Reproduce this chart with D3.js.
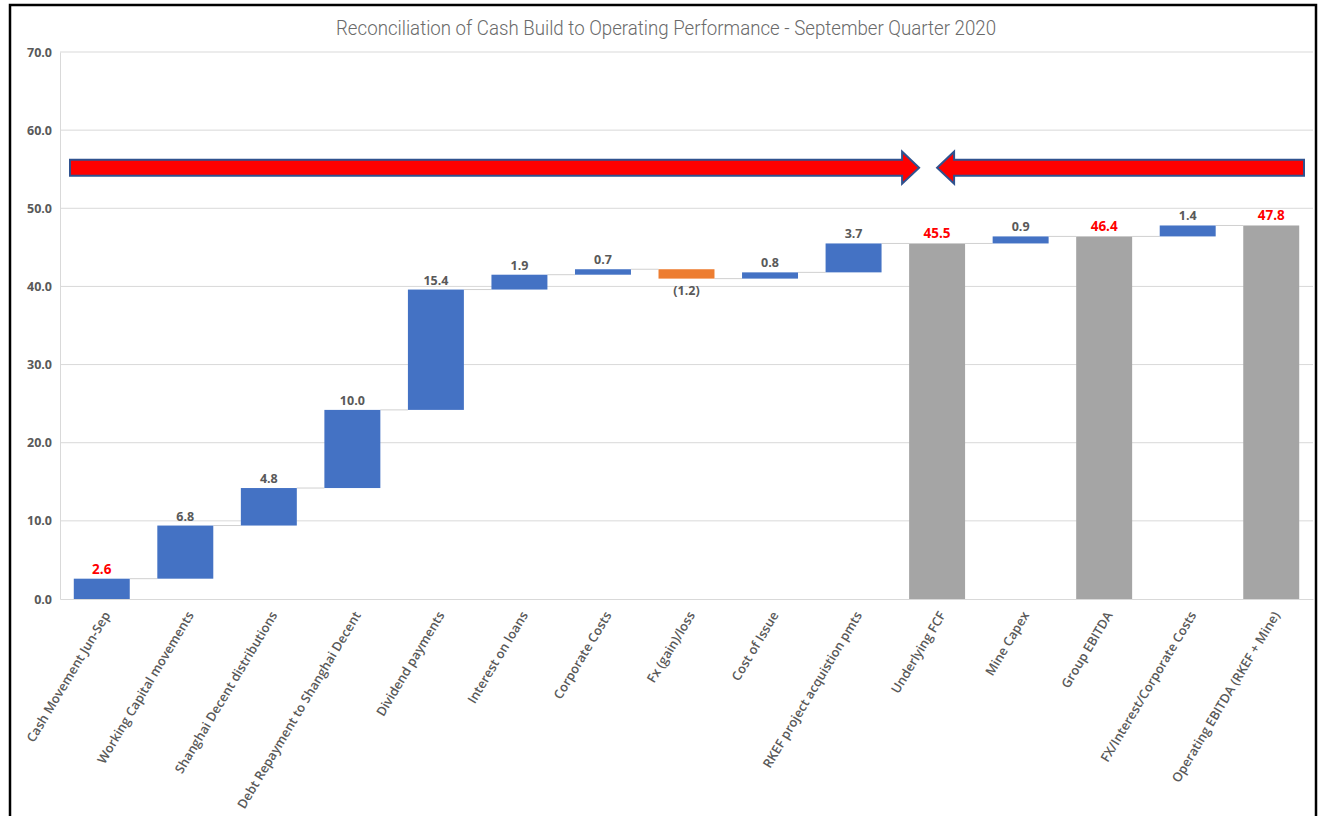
<!DOCTYPE html>
<html>
<head>
<meta charset="utf-8">
<script src="https://cdn.jsdelivr.net/npm/d3@7"></script>
<style>
  html, body { margin: 0; padding: 0; background: #fff; }
  svg { display: block; }
</style>
</head>
<body>
<svg id="chart" width="1322" height="816"></svg>
<script>
// ---- data ----
const title = "Reconciliation of Cash Build to Operating Performance - September Quarter 2020";
const categories = [
  "Cash Movement  Jun-Sep",
  "Working Capital movements",
  "Shanghai Decent distributions",
  "Debt Repayment to Shanghai Decent",
  "Dividend payments",
  "Interest on loans",
  "Corporate Costs",
  "Fx (gain)/loss",
  "Cost of Issue",
  "RKEF project acquistion pmts",
  "Underlying FCF",
  "Mine Capex",
  "Group EBITDA",
  "FX/Interest/Corporate Costs",
  "Operating EBITDA (RKEF + Mine)"
];
const values = [2.6, 6.8, 4.8, 10.0, 15.4, 1.9, 0.7, -1.2, 0.8, 3.7, 45.5, 0.9, 46.4, 1.4, 47.8];
const kinds  = ["start","delta","delta","delta","delta","delta","delta","delta","delta","delta","total","delta","total","delta","total"];
const yTicks = [0, 10, 20, 30, 40, 50, 60, 70];
const arrowLevel = 55.2;
const arrowTarget = "Underlying FCF";

// ---- build waterfall ----
let running = 0;
const bars = categories.map((c, i) => {
  let y0, y1;
  if (kinds[i] === "total") { y0 = 0; y1 = values[i]; running = values[i]; }
  else { y0 = running; y1 = running + values[i]; running = y1; }
  return { cat: c, v: values[i], kind: kinds[i], y0, y1, end: running };
});

const svg = d3.select("#chart");
const plot = { left: 60, right: 1313, top: 52, bottom: 599 };

const x = d3.scaleBand().domain(categories).range([plot.left, plot.right])
  .paddingInner(0.33).paddingOuter(0.165);
const y = d3.scaleLinear().domain([0, 70]).range([plot.bottom, plot.top]);

// frame
svg.append("rect").attr("x", 10).attr("y", 5).attr("width", 1306).attr("height", 840)
  .attr("fill", "none").attr("stroke", "#000").attr("stroke-width", 2.5);

// title
svg.append("text").attr("x", 666).attr("y", 35).attr("text-anchor", "middle")
  .attr("font-family", "Roboto, sans-serif").attr("font-weight", 300)
  .attr("font-size", 20).attr("fill", "#6a6a6a")
  .attr("textLength", 660).attr("lengthAdjust", "spacingAndGlyphs")
  .text(title);

// gridlines
svg.append("g").selectAll("line").data(yTicks.filter(t => t > 0)).join("line")
  .attr("x1", plot.left).attr("x2", plot.right)
  .attr("y1", d => y(d)).attr("y2", d => y(d))
  .attr("stroke", "#d9d9d9").attr("stroke-width", 1);

// y axis
const yAxis = svg.append("g").attr("transform", `translate(${plot.left},0)`)
  .call(d3.axisLeft(y).tickValues(yTicks).tickFormat(d3.format(".1f")).tickSize(0).tickPadding(8));
yAxis.select(".domain").attr("stroke", "#d9d9d9");
yAxis.selectAll("text").attr("font-family", "'Open Sans', sans-serif").attr("font-weight", "bold")
  .attr("font-size", 12.5).attr("fill", "#595959");

// x axis
const xAxis = svg.append("g").attr("transform", `translate(0,${plot.bottom})`)
  .call(d3.axisBottom(x).tickSize(0).tickPadding(0));
xAxis.select(".domain").attr("stroke", "#d9d9d9");
xAxis.selectAll("text")
  .attr("font-family", "'Open Sans', sans-serif").attr("font-weight", 600)
  .attr("font-size", 12.8).attr("fill", "#595959")
  .attr("text-anchor", "end").attr("dy", 0).attr("y", 0)
  .attr("transform", "translate(9,16) rotate(-59)");

// connectors
const conn = bars.slice(0, -1).map((b, i) => ({ x1: x(b.cat) + x.bandwidth(), x2: x(bars[i + 1].cat), lvl: b.end }));
svg.append("g").selectAll("line").data(conn).join("line")
  .attr("x1", d => d.x1).attr("x2", d => d.x2)
  .attr("y1", d => y(d.lvl)).attr("y2", d => y(d.lvl))
  .attr("stroke", "#d0d0d0").attr("stroke-width", 1);

// bars
const colorOf = b => b.kind === "total" ? "#a5a5a5" : (b.v < 0 ? "#ed7d31" : "#4472c4");
svg.append("g").selectAll("rect").data(bars).join("rect")
  .attr("x", d => x(d.cat)).attr("width", x.bandwidth())
  .attr("y", d => y(Math.max(d.y0, d.y1)))
  .attr("height", d => Math.abs(y(d.y0) - y(d.y1)))
  .attr("fill", colorOf);

// value labels
const fmt = v => v < 0 ? `(${Math.abs(v).toFixed(1)})` : v.toFixed(1);
svg.append("g").selectAll("text").data(bars).join("text")
  .attr("x", d => x(d.cat) + x.bandwidth() / 2)
  .attr("y", d => d.v < 0 ? y(Math.min(d.y0, d.y1)) + 16 : y(Math.max(d.y0, d.y1)) - 5)
  .attr("text-anchor", "middle")
  .attr("font-family", "'Open Sans', sans-serif").attr("font-weight", "bold")
  .attr("font-size", d => (d.kind === "delta") ? 12.5 : 13.5)
  .attr("fill", d => (d.kind === "delta") ? "#595959" : "#ff0000")
  .text(d => fmt(d.v));

// arrows
const ay = y(arrowLevel);
const cx = x(arrowTarget) + x.bandwidth() / 2;
const sh = 8, hh = 16, hl = 17;
const rStart = plot.left + 10, rTip = cx - 18;
const lTip = cx, lEnd = plot.right - 9;
const rightArrow = [
  [rStart, ay - sh], [rTip - hl, ay - sh], [rTip - hl, ay - hh], [rTip, ay],
  [rTip - hl, ay + hh], [rTip - hl, ay + sh], [rStart, ay + sh]
];
const leftArrow = [
  [lEnd, ay - sh], [lTip + hl, ay - sh], [lTip + hl, ay - hh], [lTip, ay],
  [lTip + hl, ay + hh], [lTip + hl, ay + sh], [lEnd, ay + sh]
];
svg.append("g").selectAll("path").data([rightArrow, leftArrow]).join("path")
  .attr("d", d => d3.line()(d) + "Z")
  .attr("fill", "#ff0000").attr("stroke", "#2f528f").attr("stroke-width", 2)
  .attr("stroke-linejoin", "miter");
</script>
</body>
</html>
